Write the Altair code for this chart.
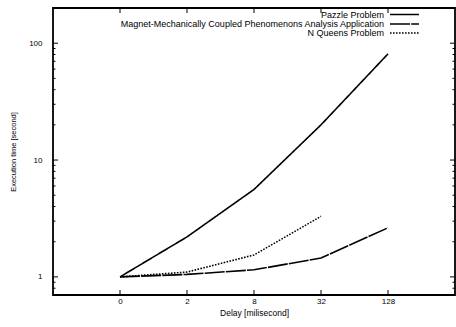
import altair as alt
import pandas as pd

delays = ["0", "2", "8", "32", "128"]
series_names = ["Pazzle Problem",
                "Magnet-Mechanically Coupled Phenomenons Analysis Application",
                "N Queens Problem"]
pazzle = [1.0, 2.2, 5.6, 20.0, 81.0]
magnet = [1.0, 1.05, 1.15, 1.45, 2.63]
nqueens = [1.0, 1.10, 1.54, 3.3]
y_major = [1, 10, 100]
y_minor = [0.7, 0.8, 0.9, 2, 3, 4, 5, 6, 7, 8, 9, 20, 30, 40, 50, 60, 70, 80, 90, 200]

rows = []
for name, vals in zip(series_names, [pazzle, magnet, nqueens]):
    for i, v in enumerate(vals):
        rows.append({"series": name, "idx": i, "value": v})
df = pd.DataFrame(rows)

W, H = 402, 287
FONT = "Liberation Sans"
xscale = alt.Scale(domain=[-1, 5], nice=False, zero=False)
yscale = alt.Scale(type="log", domain=[0.7, 200], nice=False)
dash_scale = alt.Scale(domain=series_names, range=[[1, 0], [20, 1.2], [1.6, 1.4]])
width_scale = alt.Scale(domain=series_names, range=[1.6, 1.6, 1.1])

label_expr = ("datum.value == 0 ? '0' : datum.value == 1 ? '2' : datum.value == 2 ? '8' : "
              "datum.value == 3 ? '32' : datum.value == 4 ? '128' : ''")

lines = alt.Chart(df).mark_line(color="black").encode(
    x=alt.X("idx:Q", scale=xscale,
            axis=alt.Axis(values=[0, 1, 2, 3, 4], labelExpr=label_expr, title="Delay [milisecond]",
                          grid=False, ticks=False, domain=False, labelFont=FONT, labelFontSize=8,
                          labelColor="black", titleFont=FONT, titleFontSize=8.5, titleFontWeight="normal",
                          titleColor="black", labelPadding=2, titlePadding=3)),
    y=alt.Y("value:Q", scale=yscale,
            axis=alt.Axis(values=y_major, format="d", title="Execution time [second]",
                          grid=False, ticks=False, domain=False, labelFont=FONT, labelFontSize=8,
                          labelColor="black", titleFont=FONT, titleFontSize=7.5, titleFontWeight="normal",
                          titleColor="black", labelPadding=11, titlePadding=11)),
    strokeDash=alt.StrokeDash("series:N", scale=dash_scale, legend=None),
    strokeWidth=alt.StrokeWidth("series:N", scale=width_scale, legend=None),
    detail="series:N",
)

ymaj = pd.DataFrame({"v": y_major})
ymin = pd.DataFrame({"v": y_minor})
xt = pd.DataFrame({"i": [0, 1, 2, 3, 4]})

def yticks(data, length):
    left = alt.Chart(data).mark_rule(color="black", strokeWidth=1).encode(
        y=alt.Y("v:Q", scale=yscale), x=alt.value(0), x2=alt.value(length))
    right = alt.Chart(data).mark_rule(color="black", strokeWidth=1).encode(
        y=alt.Y("v:Q", scale=yscale), x=alt.value(W - length), x2=alt.value(W))
    return [left, right]

xb = alt.Chart(xt).mark_rule(color="black", strokeWidth=1).encode(
    x=alt.X("i:Q", scale=xscale), y=alt.value(H), y2=alt.value(H - 5))
xtop = alt.Chart(xt).mark_rule(color="black", strokeWidth=1).encode(
    x=alt.X("i:Q", scale=xscale), y=alt.value(0), y2=alt.value(5))

frame = alt.Chart(pd.DataFrame({"a": [0]})).mark_rect(
    fill=None, stroke="black", strokeWidth=1.8).encode(
    x=alt.value(0), x2=alt.value(W), y=alt.value(0), y2=alt.value(H))

leg_layers = []
leg_y = [6.5, 16, 25]
for name, yy in zip(series_names, leg_y):
    one = pd.DataFrame({"series": [name]})
    leg_layers.append(alt.Chart(one).mark_text(align="right", baseline="middle", font=FONT,
                                               fontSize=9, color="black").encode(
        text="series:N", x=alt.value(331), y=alt.value(yy)))
    leg_layers.append(alt.Chart(one).mark_rule(color="black").encode(
        x=alt.value(337), x2=alt.value(366), y=alt.value(yy),
        strokeDash=alt.StrokeDash("series:N", scale=alt.Scale(domain=series_names,
                                  range=[[1, 0], [5, 1.2], [1.6, 1.4]]), legend=None),
        strokeWidth=alt.StrokeWidth("series:N", scale=width_scale, legend=None)))

chart = alt.layer(frame, lines, *yticks(ymaj, 5), *yticks(ymin, 2.5), xb, xtop, *leg_layers).properties(
    width=W, height=H, background="white",
    padding={"left": 53, "top": 8, "right": 1, "bottom": 32},
    autosize=alt.AutoSizeParams(type="none"),
).configure_view(stroke=None)

chart.save("out.html", embed_options={"renderer": "svg", "actions": False})
